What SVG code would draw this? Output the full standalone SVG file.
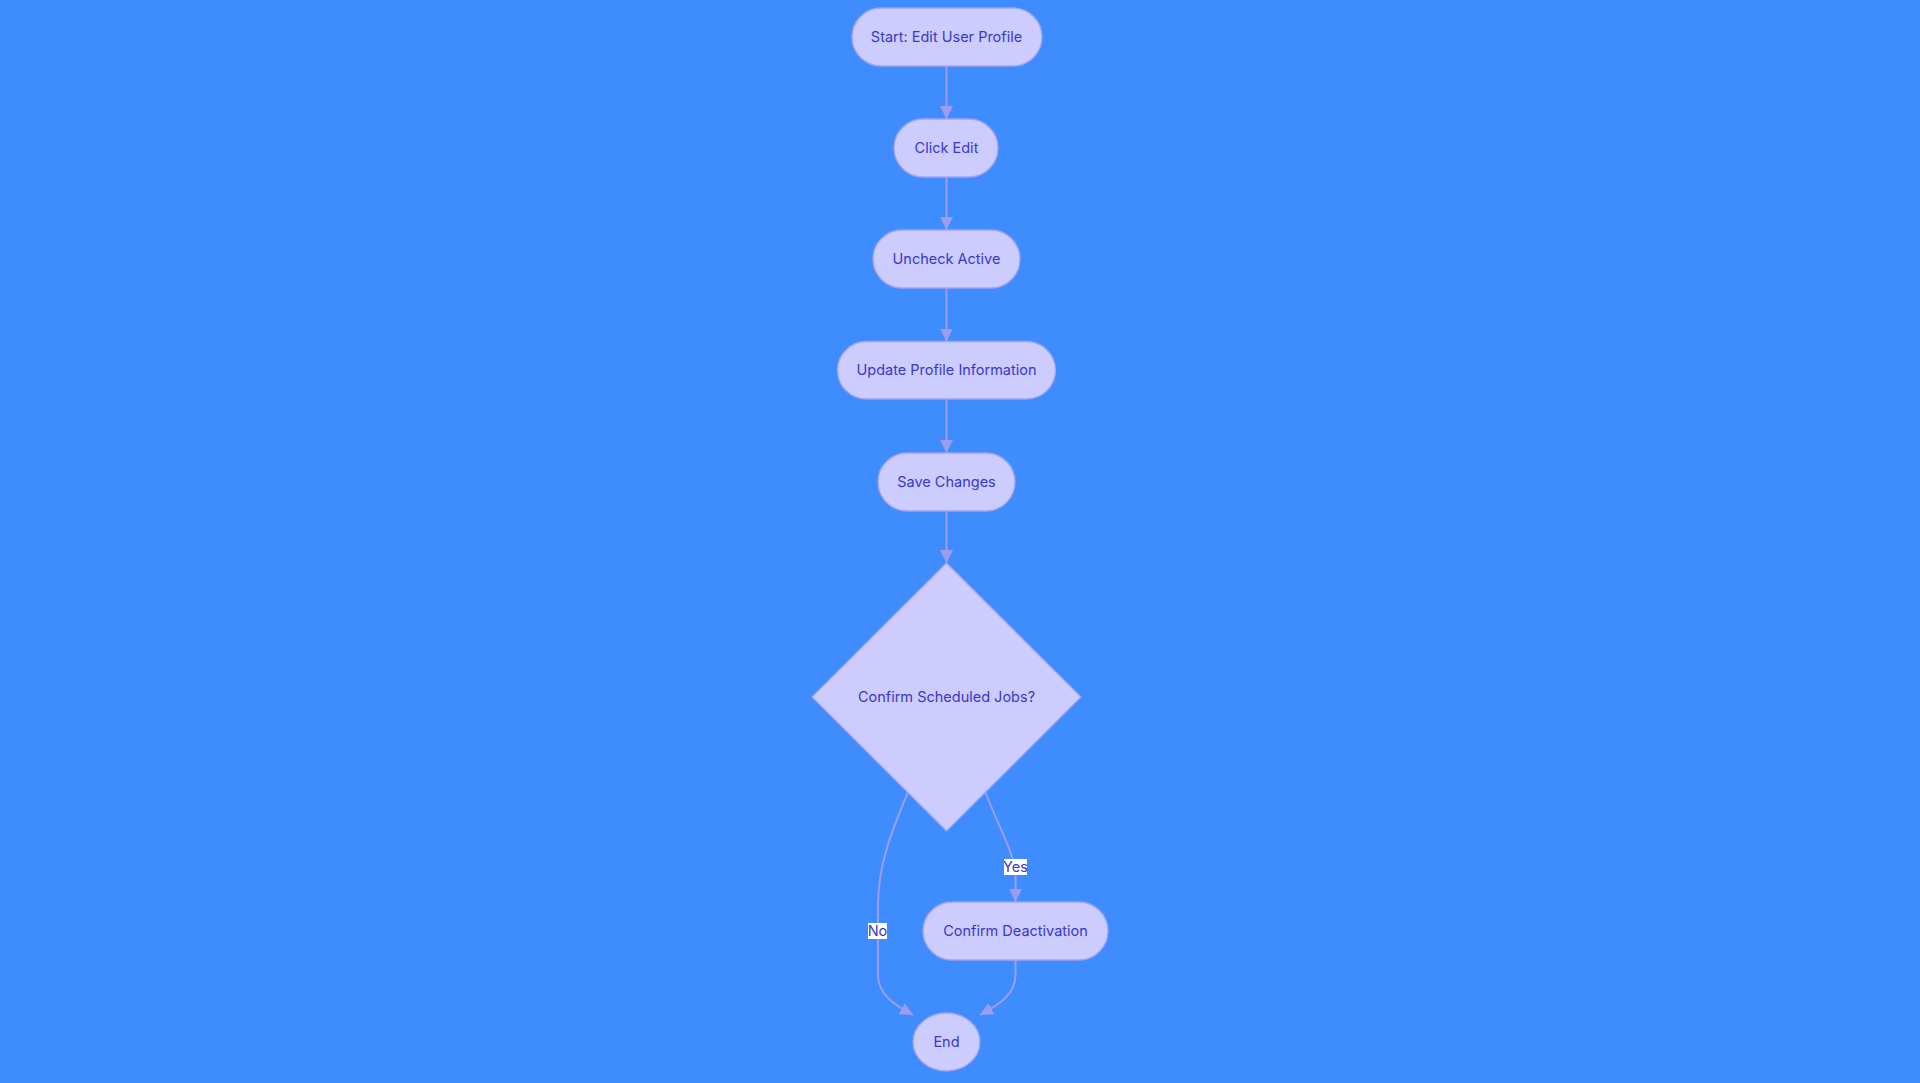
<svg xmlns="http://www.w3.org/2000/svg" width="1920" height="1083" viewBox="0 0 1920 1083">
<style>
.node rect, .node ellipse, .node polygon { fill: #ccccff; stroke: #a3a3f0; stroke-width: 1.3; }
.node text { font-family: Inter, "Noto Sans", sans-serif; font-size: 14.5px; font-weight: 400; fill: #3838c9; text-anchor: middle; dominant-baseline: central; }
.edge { fill: none; stroke: #9d9def; stroke-width: 2; }
.lbl rect { fill: #ffffff; }
.lbl text { font-family: Inter, "Noto Sans", sans-serif; font-size: 14.5px; fill: #3838c9; text-anchor: middle; dominant-baseline: central; }
</style>
<defs>
<marker id="arr" viewBox="0 0 12 12" refX="12" refY="6" markerWidth="13" markerHeight="14" markerUnits="userSpaceOnUse" orient="auto">
<path d="M0,0 L12,6 L0,12 z" fill="#9d9def"/>
</marker>
</defs>
<rect x="0" y="0" width="1920" height="1083" fill="#3f8cff"/>
<g id="connectors">
<path class="edge" d="M946.5,66 L946.5,119" marker-end="url(#arr)"/>
<path class="edge" d="M946.5,177 L946.5,230" marker-end="url(#arr)"/>
<path class="edge" d="M946.5,288 L946.5,341.5" marker-end="url(#arr)"/>
<path class="edge" d="M946.5,399 L946.5,453" marker-end="url(#arr)"/>
<path class="edge" d="M946.5,511 L946.5,563" marker-end="url(#arr)"/>
<path class="edge" d="M907.7,793 C892,830 878,865 878,905 L878,975 C878,995 895,1005 913,1015" marker-end="url(#arr)"/>
<path class="edge" d="M985.7,793 C1000,830 1015,855 1015.5,875 L1015.5,902" marker-end="url(#arr)"/>
<path class="edge" d="M1015.5,960 L1015.5,975 C1015.5,995 998,1005 980,1015" marker-end="url(#arr)"/>
</g>
<g id="lbl-yes" class="lbl"><rect x="1004" y="859" width="23" height="16"/><text x="1015.5" y="866.5">Yes</text></g>
<g id="lbl-no" class="lbl"><rect x="868" y="923" width="19" height="16"/><text x="877.5" y="930.5">No</text></g>
<g id="n-start" class="node"><rect x="852" y="8" width="190" height="58" rx="29"/><text x="946.5" y="36.3">Start: Edit User Profile</text></g>
<g id="n-click" class="node"><rect x="894" y="119" width="104" height="58" rx="29"/><text x="946.5" y="147.3">Click Edit</text></g>
<g id="n-uncheck" class="node"><rect x="873" y="230" width="147" height="58" rx="29"/><text x="946.5" y="258.3">Uncheck Active</text></g>
<g id="n-update" class="node"><rect x="837.5" y="341.5" width="218" height="57.5" rx="28.75"/><text x="946.5" y="369.3">Update Profile Information</text></g>
<g id="n-save" class="node"><rect x="878" y="453" width="137" height="58" rx="29"/><text x="946.5" y="481.3">Save Changes</text></g>
<g id="n-confirm" class="node"><polygon points="946.5,563 1081,697 946.5,831 812,697"/><text x="946.5" y="696.3">Confirm Scheduled Jobs?</text></g>
<g id="n-deact" class="node"><rect x="923" y="902" width="185" height="58" rx="29"/><text x="1015.5" y="930.3">Confirm Deactivation</text></g>
<g id="n-end" class="node"><ellipse cx="946.5" cy="1042" rx="33.5" ry="29"/><text x="946.5" y="1041.3">End</text></g>
</svg>
